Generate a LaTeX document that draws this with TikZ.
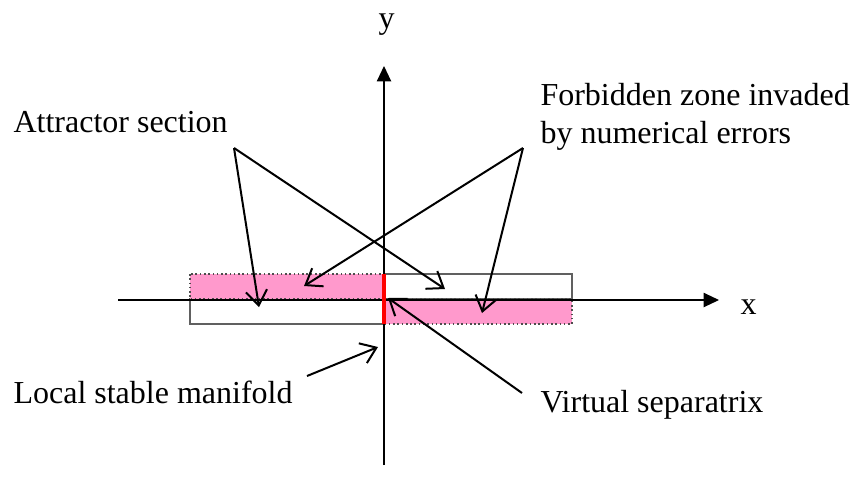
\documentclass[tikz,border=0pt]{standalone}
\usepackage{fontspec}
\setmainfont{Liberation Serif}
\usetikzlibrary{arrows.meta,positioning}
\definecolor{cZone}{HTML}{FF99CC}
\definecolor{cEdge}{HTML}{606060}
\definecolor{cSep}{HTML}{FF0000}

\begin{document}
\begin{tikzpicture}[
  x=0.375pt,y=-0.375pt,font=\fontsize{12}{13.9}\selectfont,
  lab/.style={inner sep=0pt,anchor=base west,align=left},
  axis/.style={-{Triangle[length=5.8pt,width=5.4pt]},line width=0.45pt,draw=black},
  zone/.style={fill=cZone,draw=cEdge!80!black,line width=0.6pt,densely dotted},
  cell/.style={fill=white,draw=cEdge,line width=0.6pt},
  pt/.style={-{Straight Barb[length=5.5pt,width=8pt]},line width=0.75pt,draw=black}
]
\useasboundingbox (0,0) rectangle (853,502);

%======================= SECTIONS =======================
\draw[cell] (190,299) rectangle (384,324);
\draw[cell] (384,274) rectangle (572,299);
\draw[zone] (190,274) rectangle (384,299);
\draw[zone] (384,299) rectangle (572,324);

%======================= AXES =======================
\coordinate (xL) at (118,300);
\coordinate (xR) at (719,300);
\coordinate (yB) at (384,465);
\coordinate (yT) at (384,66);
\draw[axis] (xL) -- (xR);
\draw[axis] (yB) -- (yT);
\node[lab] (xlab) at (740,314) {x};
\node[lab] (ylab) at (378,28) {y};

% separatrix
\coordinate (sT) at (384,274);
\coordinate (sB) at (384,324);
\draw[cSep,line width=1.5pt] (sT) -- (sB);

%======================= LABELS =======================
\node[lab] (att) at (13,132) {Attractor section};
\node[lab] (forb) at (540,143) {Forbidden zone invaded\\by numerical errors};
\node[lab] (lsm) at (13,403) {Local stable manifold};
\node[lab] (vsep) at (540,412) {Virtual separatrix};

%======================= POINTERS =======================
\coordinate (attS) at (234,148);
\coordinate (forbS) at (523,148);
\coordinate (lsmS) at (307,376);
\coordinate (vsepS) at (522,393);
\coordinate (tA1) at (259,307);
\coordinate (tA2) at (445,289);
\coordinate (tF1) at (304,286);
\coordinate (tF2) at (482,313);
\coordinate (tL) at (378,347);
\coordinate (tV) at (388,298);

\draw[pt] (attS) -- (tA1);
\draw[pt] (attS) -- (tA2);
\draw[pt] (forbS) -- (tF1);
\draw[pt] (forbS) -- (tF2);
\draw[pt] (lsmS) -- (tL);
\draw[pt] (vsepS) -- (tV);

\end{tikzpicture}
\end{document}
